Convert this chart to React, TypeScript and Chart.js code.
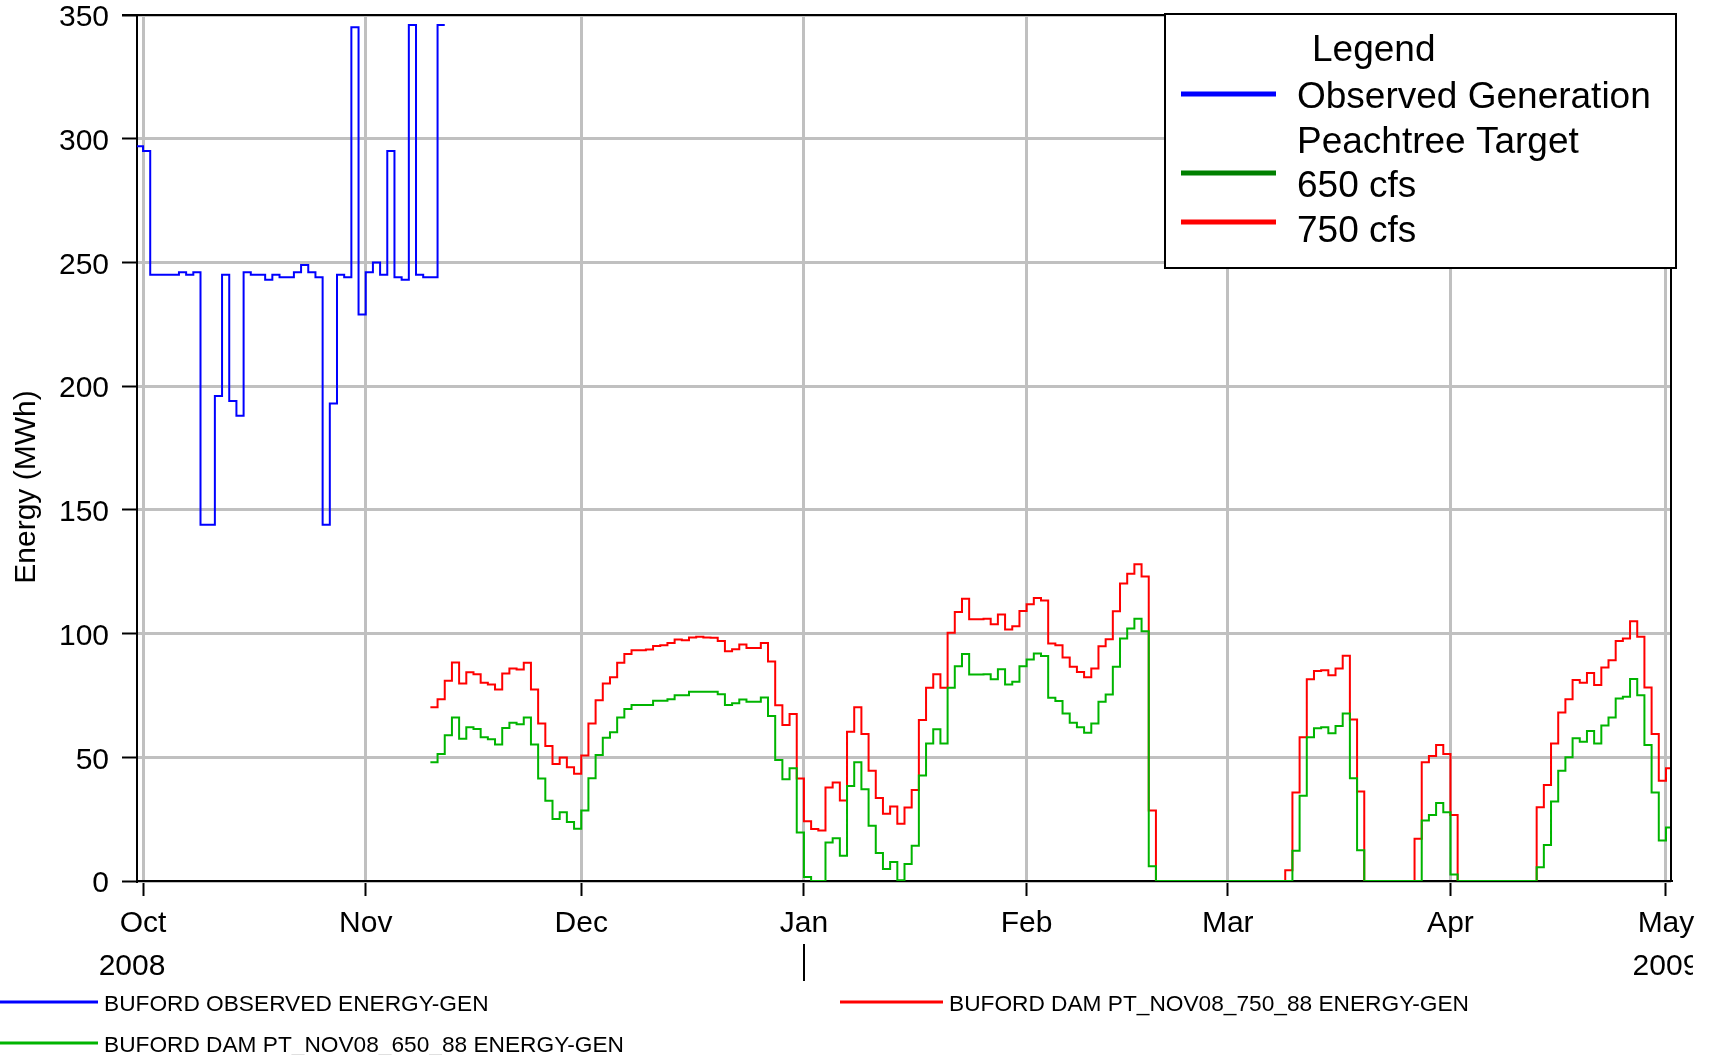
import React, { useEffect, useRef } from "react";
import { Chart, registerables } from "chart.js";

Chart.register(...registerables);

const FONT = "'Liberation Sans', Arial, Helvetica, sans-serif";

// Day 0 = 1 Oct 2008
const monthDays = [0, 31, 61, 92, 123, 151, 182, 212];
const monthLabels = ["Oct", "Nov", "Dec", "Jan", "Feb", "Mar", "Apr", "May"];
const yearLabels = ["2008", "2009"];
const yTicks = [0, 50, 100, 150, 200, 250, 300, 350];

const observedStart = -1;
const observedValues = [
  297, 295, 245, 245, 245, 245, 246, 245, 246, 144, 144, 196, 245, 194, 188, 246,
  245, 245, 243, 245, 244, 244, 246, 249, 246, 244, 144, 193, 245, 244, 345, 229,
  246, 250, 245, 295, 244, 243, 346, 245, 244, 244, 346,
];

const target750Start = 40;
const target750Values = [
  70.2, 73.5, 80.9, 88.3, 79.8, 84.4, 83.6, 80.1, 79.4, 77.4, 83.9, 85.9, 85.5, 88.2,
  77.4, 63.7, 54.6, 47.3, 49.9, 46.0, 43.3, 50.7, 63.7, 73.1, 79.8, 82.3, 88.2, 91.7,
  93.3, 93.3, 93.6, 95.0, 95.3, 96.2, 97.6, 97.3, 98.4, 98.7, 98.4, 98.3, 97.0, 92.9,
  93.7, 95.6, 94.2, 94.2, 96.2, 88.7, 71.0, 63.0, 67.5, 41.4, 24.1, 21.0, 20.4, 37.8,
  39.8, 32.5, 60.3, 70.2, 59.4, 44.6, 33.5, 27.2, 30.1, 23.1, 29.7, 36.8, 65.1, 78.1,
  83.6, 78.1, 100.3, 108.7, 114.1, 105.8, 105.8, 106.0, 103.8, 107.7, 101.6, 103.0,
  109.1, 111.8, 114.4, 113.4, 96.0, 95.3, 90.3, 86.6, 84.5, 82.3, 85.9, 94.9, 97.7,
  109.0, 120.2, 124.2, 128.0, 123.1, 28.5,
  0, 0, 0, 0, 0, 0, 0, 0, 0, 0, 0, 0, 0, 0, 0, 0, 0, 0,
  4.3, 35.8, 58.1, 81.5, 84.9, 85.2, 83.2, 85.9, 91.0, 65.3, 36.2,
  0, 0, 0, 0, 0, 0, 0,
  17.1, 48.0, 50.5, 55.0, 51.3, 26.7,
  0, 0, 0, 0, 0, 0, 0, 0, 0, 0, 0,
  29.8, 38.8, 55.6, 68.1, 73.5, 81.2, 80.1, 84.1, 79.2, 86.3, 89.2, 97.0, 98.0, 105.0,
  98.7, 78.2, 59.4, 40.5, 45.6,
];

const target650Start = 40;
const target650Values = [
  48.0, 51.3, 58.9, 66.1, 57.5, 62.1, 61.4, 58.1, 57.3, 55.2, 61.8, 64.0, 63.4, 66.1,
  55.2, 41.4, 32.4, 25.1, 27.8, 23.8, 21.1, 28.5, 41.5, 50.9, 57.9, 60.1, 66.1, 69.5,
  71.1, 71.1, 71.1, 72.8, 72.8, 73.5, 75.1, 75.1, 76.5, 76.5, 76.5, 76.5, 75.5, 71.1,
  71.8, 73.4, 72.4, 72.4, 74.2, 66.7, 48.9, 41.1, 45.6, 19.6, 1.6, 0, 0, 15.6,
  17.3, 10.2, 38.4, 48.0, 37.1, 22.3, 11.3, 4.8, 7.7, 0.3, 6.9, 14.2, 42.6, 55.6,
  61.3, 55.6, 78.1, 86.8, 91.7, 83.5, 83.5, 83.6, 81.5, 85.6, 79.4, 80.5,
  86.8, 89.5, 91.9, 90.9, 74.1, 72.7, 67.7, 64.0, 62.1, 59.9, 63.7, 72.4, 75.4,
  86.6, 98.0, 102.0, 106.0, 100.9, 6.0,
  0, 0, 0, 0, 0, 0, 0, 0, 0, 0, 0, 0, 0, 0, 0, 0, 0, 0, 0,
  12.2, 34.5, 58.1, 61.7, 62.1, 59.7, 62.6, 67.7, 41.5, 12.4,
  0, 0, 0, 0, 0, 0, 0, 0,
  24.5, 26.7, 31.5, 27.8, 2.6,
  0, 0, 0, 0, 0, 0, 0, 0, 0, 0, 0,
  5.6, 14.6, 32.1, 44.6, 50.0, 57.7, 56.3, 60.6, 55.6, 62.8, 66.1, 73.8, 74.5, 81.6,
  75.1, 55.0, 35.8, 16.4, 21.6,
];

const legendTitle = "Legend";
const legendRows = ["Observed Generation", "Peachtree Target", "650 cfs", "750 cfs"];
const seriesNames = [
  "BUFORD OBSERVED ENERGY-GEN",
  "BUFORD DAM PT_NOV08_750_88 ENERGY-GEN",
  "BUFORD DAM PT_NOV08_650_88 ENERGY-GEN",
];

const BLUE = "#0000ff";
const RED = "#ff0000";
const GREEN = "#00b400";
const LEGEND_GREEN = "#008000";

function toSteps(start: number, values: number[]) {
  const pts = values.map((v, i) => ({ x: start + i, y: v }));
  pts.push({ x: start + values.length, y: values[values.length - 1] });
  return pts;
}

const decorPlugin = {
  id: "decor",
  afterDraw(chart: any) {
    const ctx = chart.ctx as CanvasRenderingContext2D;
    const area = chart.chartArea;
    const xs = chart.scales.x;
    ctx.save();

    // frame: top and right borders
    ctx.strokeStyle = "#000";
    ctx.lineWidth = 2;
    ctx.beginPath();
    ctx.moveTo(122, area.top);
    ctx.lineTo(area.right, area.top);
    ctx.lineTo(area.right, area.bottom);
    ctx.stroke();

    // y axis title
    ctx.fillStyle = "#000";
    ctx.font = `30px ${FONT}`;
    ctx.save();
    ctx.translate(27, 487);
    ctx.rotate(-Math.PI / 2);
    ctx.textAlign = "center";
    ctx.textBaseline = "middle";
    ctx.fillText("Energy (MWh)", 0, 0);
    ctx.restore();

    // year labels + separator
    ctx.save();
    ctx.beginPath();
    ctx.rect(0, 0, 1693, 1055);
    ctx.clip();
    ctx.textAlign = "center";
    ctx.textBaseline = "middle";
    ctx.font = `30px ${FONT}`;
    ctx.fillText(yearLabels[0], xs.getPixelForValue(monthDays[0]) - 11, 967);
    ctx.fillText(yearLabels[1], xs.getPixelForValue(monthDays[7]), 967);
    ctx.restore();
    const janX = Math.round(xs.getPixelForValue(monthDays[3]));
    ctx.beginPath();
    ctx.moveTo(janX, 944);
    ctx.lineTo(janX, 981);
    ctx.stroke();

    // legend box
    ctx.fillStyle = "#fff";
    ctx.fillRect(1165, 14, 511, 254);
    ctx.strokeStyle = "#000";
    ctx.lineWidth = 2;
    ctx.strokeRect(1165, 14, 511, 254);
    ctx.fillStyle = "#000";
    ctx.font = `37px ${FONT}`;
    ctx.textAlign = "left";
    ctx.textBaseline = "middle";
    ctx.fillText(legendTitle, 1312, 51);
    const rowY = [98, 143, 187, 232];
    legendRows.forEach((t, i) => ctx.fillText(t, 1297, rowY[i]));
    ctx.lineWidth = 5;
    [
      [BLUE, 94],
      [LEGEND_GREEN, 173],
      [RED, 222],
    ].forEach(([c, y]) => {
      ctx.strokeStyle = c as string;
      ctx.beginPath();
      ctx.moveTo(1181, y as number);
      ctx.lineTo(1276, y as number);
      ctx.stroke();
    });

    // bottom legend
    ctx.font = `22.7px ${FONT}`;
    ctx.fillStyle = "#000";
    ctx.lineWidth = 3;
    const bottom = [
      { c: BLUE, x0: 0, x1: 98, tx: 104, y: 1002, t: seriesNames[0] },
      { c: RED, x0: 840, x1: 943, tx: 949, y: 1002, t: seriesNames[1] },
      { c: GREEN, x0: 0, x1: 98, tx: 104, y: 1043, t: seriesNames[2] },
    ];
    bottom.forEach((b) => {
      ctx.strokeStyle = b.c;
      ctx.beginPath();
      ctx.moveTo(b.x0, b.y);
      ctx.lineTo(b.x1, b.y);
      ctx.stroke();
      ctx.fillText(b.t, b.tx, b.y + 3);
    });

    ctx.restore();
  },
};

export default function App() {
  const ref = useRef<HTMLCanvasElement | null>(null);

  useEffect(() => {
    if (!ref.current) return;
    const common = {
      borderWidth: 2,
      stepped: "before",
      pointRadius: 0,
      fill: false,
    };
    const chart = new Chart(ref.current, {
      type: "line",
      data: {
        datasets: [
          {
            ...common,
            label: seriesNames[2],
            data: toSteps(target650Start, target650Values),
            borderColor: GREEN,
            order: 0,
          },
          {
            ...common,
            label: seriesNames[1],
            data: toSteps(target750Start, target750Values),
            borderColor: RED,
            order: 1,
          },
          {
            ...common,
            label: seriesNames[0],
            data: toSteps(observedStart, observedValues),
            borderColor: BLUE,
            order: 2,
          },
        ],
      },
      options: {
        animation: false,
        responsive: false,
        maintainAspectRatio: false,
        layout: { padding: { top: 15, right: 39, left: 0, bottom: 0 } },
        plugins: { legend: { display: false }, tooltip: { enabled: false } },
        scales: {
          x: {
            type: "linear",
            min: -0.84,
            max: 212.7,
            afterBuildTicks: (s: any) => {
              s.ticks = monthDays.map((v) => ({ value: v }));
            },
            afterFit: (s: any) => {
              s.height = 174;
            },
            ticks: {
              autoSkip: false,
              maxRotation: 0,
              padding: 10,
              color: "#000",
              font: { family: FONT, size: 30 },
              callback: (v: any) => {
                const i = monthDays.indexOf(Number(v));
                return i >= 0 ? monthLabels[i] : "";
              },
            },
            grid: { color: "#c0c0c0", lineWidth: 3, tickLength: 15, tickColor: "#000", tickWidth: 2 },
            border: { color: "#000", width: 2 },
          },
          y: {
            type: "linear",
            min: 0,
            max: 350,
            afterBuildTicks: (s: any) => {
              s.ticks = yTicks.map((v) => ({ value: v }));
            },
            afterFit: (s: any) => {
              s.width = 137;
              s.paddingTop = 0;
              s.paddingBottom = 0;
            },
            ticks: {
              padding: 13,
              labelOffset: 3,
              color: "#000",
              font: { family: FONT, size: 30 },
            },
            grid: { color: "#c0c0c0", lineWidth: 3, tickLength: 15, tickColor: "#000", tickWidth: 2 },
            border: { color: "#000", width: 2 },
          },
        },
      },
      plugins: [decorPlugin],
    } as any);
    return () => chart.destroy();
  }, []);

  return (
    <div style={{ position: "fixed", left: 0, top: 0, width: 1710, height: 1055, background: "#fff" }}>
      <canvas ref={ref} width={1710} height={1055} style={{ width: 1710, height: 1055, display: "block" }} />
    </div>
  );
}
